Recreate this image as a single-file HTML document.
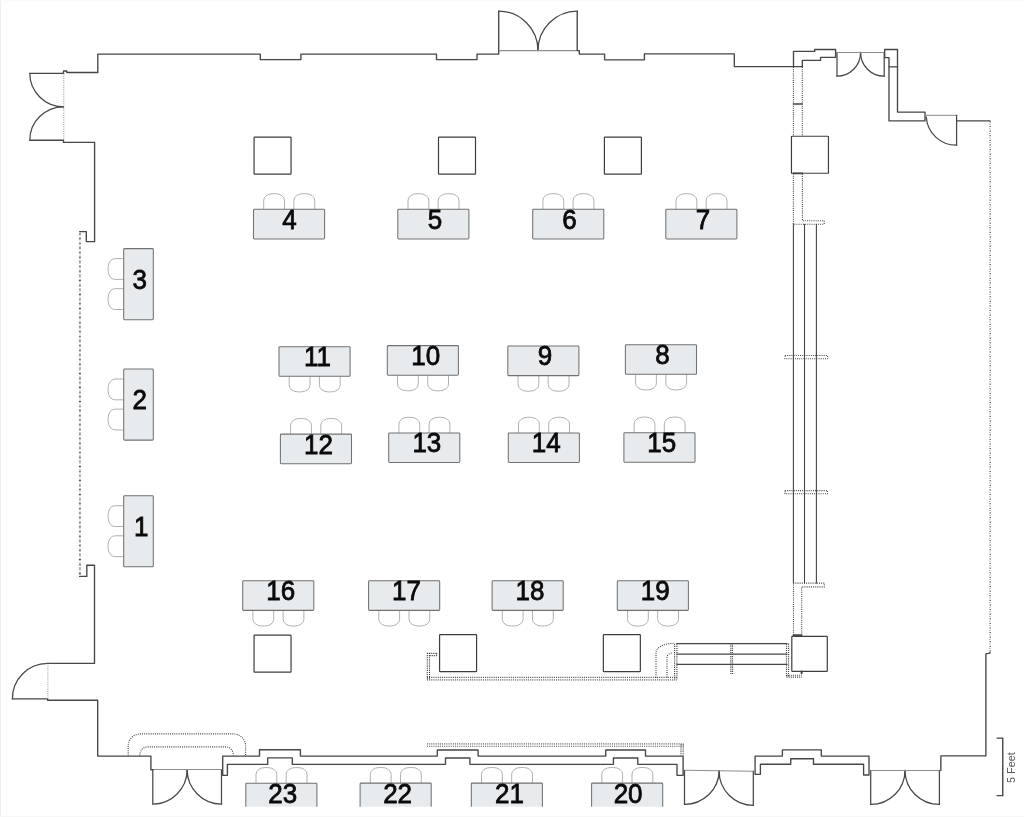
<!DOCTYPE html>
<html lang="en"><head><meta charset="utf-8"><title>Floor plan</title>
<style>
html,body{margin:0;padding:0;background:#fff;}
body{width:1024px;height:817px;overflow:hidden;position:relative;font-family:"Liberation Sans",sans-serif;}
#plan{position:absolute;left:0;top:0;width:1024px;height:817px;display:block;will-change:transform;}
.w{fill:none;stroke:#464646;stroke-width:1.35;stroke-linejoin:round;stroke-linecap:round;}
.th{fill:none;stroke:#8e8e8e;stroke-width:1.05;}
.dr{fill:none;stroke:#474747;stroke-width:1.25;stroke-linejoin:round;stroke-linecap:round;}
.col{fill:#fff;stroke:#3e3e3e;stroke-width:1.2;}
.tb{fill:#e8ebee;stroke:#727272;stroke-width:1.05;}
.ch{fill:#fff;stroke:#b0b0b0;stroke-width:1;}
.d1{fill:none;stroke:#444;stroke-width:1.1;stroke-dasharray:1 1.15;}
.d2{fill:none;stroke:#777;stroke-width:1;stroke-dasharray:0.8 1.5;}
.hb{fill:none;stroke:#444;stroke-width:1.15;stroke-dasharray:1.1 1;}
.n{font-family:"Liberation Sans",sans-serif;font-size:26px;fill:#0a0a0a;stroke:#0a0a0a;stroke-width:0.75;text-anchor:middle;}
.ft{font-family:"Liberation Sans",sans-serif;font-size:10.8px;fill:#555;text-anchor:middle;}
.edge-l{position:absolute;left:0;top:0;width:1px;height:817px;background:#efefef;}
.edge-t{position:absolute;left:0;top:0;width:1024px;height:1px;background:#fafafa;}
.edge-b{position:absolute;left:0;top:816px;width:1024px;height:1px;background:#f7f7f7;}
</style></head><body>
<svg id="plan" width="1024" height="817" viewBox="0 0 1024 817">
<defs><clipPath id="clipb"><rect x="0" y="0" width="1024" height="806.8"/></clipPath></defs>
<g id="walls">
<path class="w" d="M63.5,73.3 L63.5,71 L66.8,71 L66.8,72.5 L97.8,72.5 L97.8,54.1 L260.3,54.1 L260.3,59.6 L300.9,59.6 L300.9,54.1 L436.5,54.1 L436.5,59.6 L477,59.6 L477,54.1 L498.7,54.1 L498.7,11.1"/>
<path class="dr" d="M498.7,11.1 A39.4,39.4 0 0 1 537.95,50.6"/>
<path class="dr" d="M577.2,11.1 A39.4,39.4 0 0 0 537.95,50.6"/>
<path class="th" d="M498.7,50.6 L577.2,50.6"/>
<path class="w" d="M577.2,11.1 L577.2,50.6 L579.3,50.6 L579.3,54.1 L604.6,54.1 L604.6,59.8 L644.4,59.8 L644.4,53.9 L734.3,53.9 L734.3,66.6 L802.3,66.6"/>
<path class="w" d="M793.5,66.6 L793.5,51.3 L814.7,51.3 L814.7,49.5 L835.6,49.5 L835.6,57.4 L820.6,57.4 L820.6,60.3 L802.3,60.3 L802.3,66.6"/>
<path class="dr" d="M837,52.4 L837,76.2"/>
<path class="dr" d="M884.2,52.4 L884.2,76.2"/>
<path class="dr" d="M837,76.2 A23.6,23.8 0 0 0 860.6,52.4"/>
<path class="dr" d="M884.2,76.2 A23.6,23.8 0 0 1 860.6,52.4"/>
<path class="th" d="M837,52.4 L884.2,52.4"/>
<path class="w" d="M884.7,57.6 L884.7,49.5 L897.5,49.5 L897.5,112.1 L925,112.1 L925,120.9 L889,120.9 L889,57.6 Z"/>
<path class="w" d="M889,66.8 L897.5,66.8"/>
<path class="th" d="M925.7,115.3 L956.6,115.3"/>
<path class="dr" d="M956.6,115.3 L956.6,145.2"/>
<path class="dr" d="M926.3,117 A30.2,29.9 0 0 0 956.6,145.2"/>
<path class="w" d="M956.6,120.9 L990,120.9"/>
<path class="w" d="M989.9,652.3 L989.9,653.2 L985.9,653.8 L985.9,755.9 L940.85,755.9 L940.85,770.5"/>
<path class="dr" d="M870.7,770.4 L870.7,804.4"/>
<path class="dr" d="M939.4,770.4 L939.4,804.4"/>
<path class="dr" d="M870.7,804.4 A34.3,34 0 0 0 905,770.4"/>
<path class="dr" d="M939.4,804.4 A34.4,34 0 0 1 905,770.4"/>
<path class="th" d="M870.7,770.4 L939.4,770.4"/>
<path class="w" d="M755.1,756.1 L782.4,756.1 L782.4,749.8 L821.3,749.8 L821.3,756.1 L869,756.1 L869,775 L863.6,775 L863.6,764.2 L813.5,764.2 L813.5,758.7 L790.7,758.7 L790.7,764.2 L760.4,764.2 L760.4,774.3 L755.1,774.3 Z"/>
<path class="dr" d="M684.5,770.4 L684.5,804.4"/>
<path class="dr" d="M753.3,771.2 L753.3,805.4"/>
<path class="dr" d="M684.5,804.4 A34.6,33.8 0 0 0 719.1,770.8"/>
<path class="dr" d="M753.3,805.4 A34.2,34.4 0 0 1 719.1,770.8"/>
<path class="th" d="M684.5,770.3 L753.3,771.2"/>
<path class="w" d="M222.7,756.1 L259.5,756.1 L259.5,749.7 L300.4,749.7 L300.4,756.1 L437.3,756.1 L437.3,750 L478.1,750 L478.1,756.1 L605.7,756.1 L605.7,750 L645.5,750 L645.5,756.1 L683.1,756.1 L683.1,775.3 L677,775.3 L677,764.3 L637.8,764.3 L637.8,758 L613.4,758 L613.4,764.3 L469.9,764.3 L469.9,758 L445.5,758 L445.5,764.3 L292.3,764.3 L292.3,757.8 L267.7,757.8 L267.7,764.3 L227.4,764.3 L227.4,775.3 L222.7,775.3 Z"/>
<path class="dr" d="M152.8,769.6 L152.8,804.1"/>
<path class="dr" d="M221.5,769.6 L221.5,804.1"/>
<path class="dr" d="M152.8,804.1 A34.35,34.5 0 0 0 187.15,769.6"/>
<path class="dr" d="M221.5,804.1 A34.35,34.5 0 0 1 187.15,769.6"/>
<path class="th" d="M152.8,769.5 L221.5,769.5"/>
<path class="w" d="M152.8,769.7 L150.9,769.7 L150.9,756.1 L97.7,756.1 L97.7,700.2 L47.6,700.2 L47.6,698.9 L12.4,698.9"/>
<path class="dr" d="M12.4,698.9 A35.2,35.5 0 0 1 47.6,663.4"/>
<path class="w" d="M47.6,663.4 L94.5,663.4 L94.5,565.2 L86.8,565.2 L86.8,576.4 L79.6,576.4"/>
<path class="w" d="M79.7,231.6 L86.3,231.6 L86.3,241.6 L94.6,241.6 L94.6,142.4 L63.5,142.4 L63.5,140.2 L29.8,140.2"/>
<path class="dr" d="M29.8,140.2 A33.7,33.45 0 0 1 63.5,106.75"/>
<path class="dr" d="M63.5,106.75 A33.7,33.45 0 0 1 29.8,73.3"/>
<path class="w" d="M29.8,73.3 L63.5,73.3"/>
</g>
<g id="dots">
<path class="d2" d="M63.8,73.5 L63.8,140.2"/>
<path class="d2" d="M47.9,663.3 L47.9,699"/>
<path class="d2" d="M79.9,232.4 V576" style="stroke-width:2;stroke:#aaa;stroke-dasharray:0.8 1.525"/>
<path class="d2" d="M79.9,233.6 V576" style="stroke-width:2;stroke:#555;stroke-dasharray:0.9 3.75"/>
<path class="d2" d="M989.9,121.5 L989.9,652" style="stroke:#666"/>
<path class="d2" d="M990.4,121.5 L990.4,652" style="stroke-dasharray:1 3.6;stroke:#555"/>
<path class="d1" d="M793.4,67 L793.4,136"/>
<path class="d1" d="M802.3,67 L802.3,136"/>
<path class="w" d="M793.4,104 L802.3,104"/>
<path class="d1" d="M793.4,173.5 L793.4,224.2 L824.2,224.2 L824.2,220.8 L802.4,220.8 L802.4,173.5"/>
<path class="d1" d="M785,355.5 H827.5 V358.8 H785 Z"/>
<path class="d1" d="M785,490.6 H827.5 V493.8 H785 Z"/>
<path class="d1" d="M793.5,635 L793.5,583.1 L824.3,583.1 L824.3,586.9 L801.7,586.9 L801.7,635"/>
<path class="hb" d="M674.6,643.7 V679.8 M676.9,643.7 V679.8"/>
<path class="hb" d="M786.5,643.6 V677 M788.6,643.6 V677"/>
<path class="hb" d="M427,677.4 H677" style="stroke-width:1.1;stroke:#505050;stroke-dasharray:1.05 1.1"/>
<path class="hb" d="M427,679.8 H677" style="stroke-width:1.7;stroke:#858585;stroke-dasharray:1.05 1.1"/>
<path class="hb" d="M427.3,653 V680 M429.5,653 V680"/>
<path class="hb" d="M427,653.3 H436.9 M429.6,655.6 H436.9 M436.7,653.3 V655.8"/>
<path class="hb" d="M786.5,675.2 H801.8 M786.5,677.1 H801.8"/>
<path class="hb" d="M730.8,643.5 V674.4 M732.5,643.5 V674.4"/>
<path class="d1" d="M656,677.4 V652.7 A17.6,9.4 0 0 1 673.6,643.3"/>
<path class="d1" d="M667,677.4 V657.3 A5.8,4.3 0 0 1 672.8,653"/>
<path class="hb" d="M427,743.9 H683.6" style="stroke-width:1.9;stroke:#8c8c8c;stroke-dasharray:1.05 1.1"/>
<path class="hb" d="M427,746.25 H683.6" style="stroke-width:1.1;stroke:#505050;stroke-dasharray:1.05 1.1"/>
<path class="hb" d="M681,744.3 V755.3 M683.2,744.3 V755.3"/>
<path class="d1" d="M128.2,755.5 V745.9 A12.3,12 0 0 1 140.5,733.9 H233.3 A12.3,12 0 0 1 245.6,745.9 V755.5"/>
<path class="d1" d="M139.8,755.5 A7.5,8.6 0 0 1 147.3,746.9 H225.9 A7.5,8.6 0 0 1 233.4,755.5"/>
</g>
<g id="rails">
<path class="w" d="M793.4,224.2 V583.1 M804.5,224.2 V583.1 M816.4,224.2 V583.1" style="stroke-width:1.1"/>
<path class="w" d="M676.9,643.7 H787 M676.9,654.1 H787 M676.9,664.3 H787" style="stroke-width:1.3"/>
</g>
<g id="columns">
<rect class="col" x="254.05" y="137.15" width="37.00" height="37.00" rx="0.6"/>
<rect class="col" x="438.50" y="137.10" width="37.00" height="37.00" rx="0.6"/>
<rect class="col" x="604.40" y="137.10" width="37.00" height="37.00" rx="0.6"/>
<rect class="col" x="791.45" y="136.25" width="37.00" height="37.00" rx="0.6"/>
<rect class="col" x="254.05" y="635.20" width="37.00" height="37.00" rx="0.6"/>
<rect class="col" x="439.58" y="634.70" width="37.00" height="37.00" rx="0.6"/>
<rect class="col" x="603.35" y="634.70" width="37.00" height="37.00" rx="0.6"/>
<rect class="col" x="791.80" y="636.40" width="35.50" height="34.90" rx="0.6"/>
<path class="w" d="M793.4,635.2 H801.7" style="stroke-width:1.7"/>
<path class="w" d="M793.4,173.4 H802.4" style="stroke-width:1.6"/>
<path class="w" d="M801.6,671.6 V673.2" style="stroke-width:2"/>
</g>
<g id="tables">
<g id="table4">
<path class="ch" d="M263.7,209.3 V200.4 A9.0,6.7 0 0 1 272.7,193.7 H275.5 A9.0,6.7 0 0 1 284.5,200.4 V209.3"/>
<path class="ch" d="M293.9,209.3 V200.4 A9.0,6.7 0 0 1 302.9,193.7 H305.7 A9.0,6.7 0 0 1 314.7,200.4 V209.3"/>
<rect class="tb" x="253.5" y="209.3" width="71.1" height="29.6" rx="0.9"/>
<text class="n" id="t4" transform="translate(289.55 228.75) scale(1 1.05)">4</text>
</g>
<g id="table5">
<path class="ch" d="M408,209.3 V200.4 A9.0,6.7 0 0 1 417,193.7 H419.8 A9.0,6.7 0 0 1 428.8,200.4 V209.3"/>
<path class="ch" d="M438.2,209.3 V200.4 A9.0,6.7 0 0 1 447.2,193.7 H450 A9.0,6.7 0 0 1 459,200.4 V209.3"/>
<rect class="tb" x="397.8" y="209.3" width="71.1" height="29.6" rx="0.9"/>
<text class="n" id="t5" transform="translate(435.05 228.75) scale(1 1.05)">5</text>
</g>
<g id="table6">
<path class="ch" d="M542.9,209.3 V200.4 A9.0,6.7 0 0 1 551.9,193.7 H554.7 A9.0,6.7 0 0 1 563.7,200.4 V209.3"/>
<path class="ch" d="M573.1,209.3 V200.4 A9.0,6.7 0 0 1 582.1,193.7 H584.9 A9.0,6.7 0 0 1 593.9,200.4 V209.3"/>
<rect class="tb" x="532.7" y="209.3" width="71.1" height="29.6" rx="0.9"/>
<text class="n" id="t6" transform="translate(569.50 228.75) scale(1 1.05)">6</text>
</g>
<g id="table7">
<path class="ch" d="M676,209.3 V200.4 A9.0,6.7 0 0 1 685,193.7 H687.8 A9.0,6.7 0 0 1 696.8,200.4 V209.3"/>
<path class="ch" d="M706.2,209.3 V200.4 A9.0,6.7 0 0 1 715.2,193.7 H718 A9.0,6.7 0 0 1 727,200.4 V209.3"/>
<rect class="tb" x="665.8" y="209.3" width="71.1" height="29.6" rx="0.9"/>
<text class="n" id="t7" transform="translate(703.05 228.75) scale(1 1.05)">7</text>
</g>
<g id="table12">
<path class="ch" d="M290.6,434.1 V425.2 A9.0,6.7 0 0 1 299.6,418.5 H302.4 A9.0,6.7 0 0 1 311.4,425.2 V434.1"/>
<path class="ch" d="M320.8,434.1 V425.2 A9.0,6.7 0 0 1 329.8,418.5 H332.6 A9.0,6.7 0 0 1 341.6,425.2 V434.1"/>
<rect class="tb" x="280.4" y="434.1" width="71.1" height="29.6" rx="0.9"/>
<text class="n" id="t12" transform="translate(318.45 453.55) scale(1 1.05)">12</text>
</g>
<g id="table13">
<path class="ch" d="M398.9,432.9 V424 A9.0,6.7 0 0 1 407.9,417.3 H410.7 A9.0,6.7 0 0 1 419.7,424 V432.9"/>
<path class="ch" d="M429.1,432.9 V424 A9.0,6.7 0 0 1 438.1,417.3 H440.9 A9.0,6.7 0 0 1 449.9,424 V432.9"/>
<rect class="tb" x="388.7" y="432.9" width="71.1" height="29.6" rx="0.9"/>
<text class="n" id="t13" transform="translate(426.85 452.35) scale(1 1.05)">13</text>
</g>
<g id="table14">
<path class="ch" d="M518.5,432.9 V424 A9.0,6.7 0 0 1 527.5,417.3 H530.3 A9.0,6.7 0 0 1 539.3,424 V432.9"/>
<path class="ch" d="M548.7,432.9 V424 A9.0,6.7 0 0 1 557.7,417.3 H560.5 A9.0,6.7 0 0 1 569.5,424 V432.9"/>
<rect class="tb" x="508.3" y="432.9" width="71.1" height="29.6" rx="0.9"/>
<text class="n" id="t14" transform="translate(546.15 452.35) scale(1 1.05)">14</text>
</g>
<g id="table15">
<path class="ch" d="M634.1,432.7 V423.8 A9.0,6.7 0 0 1 643.1,417.1 H645.9 A9.0,6.7 0 0 1 654.9,423.8 V432.7"/>
<path class="ch" d="M664.3,432.7 V423.8 A9.0,6.7 0 0 1 673.3,417.1 H676.1 A9.0,6.7 0 0 1 685.1,423.8 V432.7"/>
<rect class="tb" x="623.9" y="432.7" width="71.1" height="29.6" rx="0.9"/>
<text class="n" id="t15" transform="translate(661.80 452.15) scale(1 1.05)">15</text>
</g>
<g id="table11">
<path class="ch" d="M289.2,376.3 V385.2 A9.0,6.7 0 0 0 298.2,391.9 H301 A9.0,6.7 0 0 0 310,385.2 V376.3"/>
<path class="ch" d="M319.4,376.3 V385.2 A9.0,6.7 0 0 0 328.4,391.9 H331.2 A9.0,6.7 0 0 0 340.2,385.2 V376.3"/>
<rect class="tb" x="279" y="346.7" width="71.1" height="29.6" rx="0.9"/>
<text class="n" id="t11" transform="translate(317.40 366.15) scale(1 1.05)">11</text>
</g>
<g id="table10">
<path class="ch" d="M397.5,375.2 V384.1 A9.0,6.7 0 0 0 406.5,390.8 H409.3 A9.0,6.7 0 0 0 418.3,384.1 V375.2"/>
<path class="ch" d="M427.7,375.2 V384.1 A9.0,6.7 0 0 0 436.7,390.8 H439.5 A9.0,6.7 0 0 0 448.5,384.1 V375.2"/>
<rect class="tb" x="387.3" y="345.6" width="71.1" height="29.6" rx="0.9"/>
<text class="n" id="t10" transform="translate(425.75 365.05) scale(1 1.05)">10</text>
</g>
<g id="table9">
<path class="ch" d="M518,375.6 V384.5 A9.0,6.7 0 0 0 527,391.2 H529.8 A9.0,6.7 0 0 0 538.8,384.5 V375.6"/>
<path class="ch" d="M548.2,375.6 V384.5 A9.0,6.7 0 0 0 557.2,391.2 H560 A9.0,6.7 0 0 0 569,384.5 V375.6"/>
<rect class="tb" x="507.8" y="346" width="71.1" height="29.6" rx="0.9"/>
<text class="n" id="t9" transform="translate(544.85 365.45) scale(1 1.05)">9</text>
</g>
<g id="table8">
<path class="ch" d="M635.6,374.3 V383.2 A9.0,6.7 0 0 0 644.6,389.9 H647.4 A9.0,6.7 0 0 0 656.4,383.2 V374.3"/>
<path class="ch" d="M665.8,374.3 V383.2 A9.0,6.7 0 0 0 674.8,389.9 H677.6 A9.0,6.7 0 0 0 686.6,383.2 V374.3"/>
<rect class="tb" x="625.4" y="344.7" width="71.1" height="29.6" rx="0.9"/>
<text class="n" id="t8" transform="translate(662.45 364.15) scale(1 1.05)">8</text>
</g>
<g id="table16">
<path class="ch" d="M252.9,610.4 V619.3 A9.0,6.7 0 0 0 261.9,626 H264.7 A9.0,6.7 0 0 0 273.7,619.3 V610.4"/>
<path class="ch" d="M283.1,610.4 V619.3 A9.0,6.7 0 0 0 292.1,626 H294.9 A9.0,6.7 0 0 0 303.9,619.3 V610.4"/>
<rect class="tb" x="242.7" y="580.8" width="71.1" height="29.6" rx="0.9"/>
<text class="n" id="t16" transform="translate(280.70 600.25) scale(1 1.05)">16</text>
</g>
<g id="table17">
<path class="ch" d="M378.8,610.4 V619.3 A9.0,6.7 0 0 0 387.8,626 H390.6 A9.0,6.7 0 0 0 399.6,619.3 V610.4"/>
<path class="ch" d="M409,610.4 V619.3 A9.0,6.7 0 0 0 418,626 H420.8 A9.0,6.7 0 0 0 429.8,619.3 V610.4"/>
<rect class="tb" x="368.6" y="580.8" width="71.1" height="29.6" rx="0.9"/>
<text class="n" id="t17" transform="translate(406.55 600.25) scale(1 1.05)">17</text>
</g>
<g id="table18">
<path class="ch" d="M502.3,610.4 V619.3 A9.0,6.7 0 0 0 511.3,626 H514.1 A9.0,6.7 0 0 0 523.1,619.3 V610.4"/>
<path class="ch" d="M532.5,610.4 V619.3 A9.0,6.7 0 0 0 541.5,626 H544.3 A9.0,6.7 0 0 0 553.3,619.3 V610.4"/>
<rect class="tb" x="492.1" y="580.8" width="71.1" height="29.6" rx="0.9"/>
<text class="n" id="t18" transform="translate(529.95 600.25) scale(1 1.05)">18</text>
</g>
<g id="table19">
<path class="ch" d="M627.5,610.4 V619.3 A9.0,6.7 0 0 0 636.5,626 H639.3 A9.0,6.7 0 0 0 648.3,619.3 V610.4"/>
<path class="ch" d="M657.7,610.4 V619.3 A9.0,6.7 0 0 0 666.7,626 H669.5 A9.0,6.7 0 0 0 678.5,619.3 V610.4"/>
<rect class="tb" x="617.3" y="580.8" width="71.1" height="29.6" rx="0.9"/>
<text class="n" id="t19" transform="translate(655.30 600.25) scale(1 1.05)">19</text>
</g>
<g clip-path="url(#clipb)">
<g id="table23">
<path class="ch" d="M256,783.2 V774.3 A9.0,6.7 0 0 1 265,767.6 H267.8 A9.0,6.7 0 0 1 276.8,774.3 V783.2"/>
<path class="ch" d="M286.2,783.2 V774.3 A9.0,6.7 0 0 1 295.2,767.6 H298 A9.0,6.7 0 0 1 307,774.3 V783.2"/>
<rect class="tb" x="245.8" y="783.2" width="71.1" height="29.6" rx="0.9"/>
<text class="n" id="t23" transform="translate(282.80 803.25) scale(1 1.05)">23</text>
</g>
<g id="table22">
<path class="ch" d="M370.3,783.1 V774.2 A9.0,6.7 0 0 1 379.3,767.5 H382.1 A9.0,6.7 0 0 1 391.1,774.2 V783.1"/>
<path class="ch" d="M400.5,783.1 V774.2 A9.0,6.7 0 0 1 409.5,767.5 H412.3 A9.0,6.7 0 0 1 421.3,774.2 V783.1"/>
<rect class="tb" x="360.1" y="783.1" width="71.1" height="29.6" rx="0.9"/>
<text class="n" id="t22" transform="translate(397.60 803.15) scale(1 1.05)">22</text>
</g>
<g id="table21">
<path class="ch" d="M481.5,783.1 V774.2 A9.0,6.7 0 0 1 490.5,767.5 H493.3 A9.0,6.7 0 0 1 502.3,774.2 V783.1"/>
<path class="ch" d="M511.7,783.1 V774.2 A9.0,6.7 0 0 1 520.7,767.5 H523.5 A9.0,6.7 0 0 1 532.5,774.2 V783.1"/>
<rect class="tb" x="471.3" y="783.1" width="71.1" height="29.6" rx="0.9"/>
<text class="n" id="t21" transform="translate(509.45 803.15) scale(1 1.05)">21</text>
</g>
<g id="table20">
<path class="ch" d="M601.8,783.1 V774.2 A9.0,6.7 0 0 1 610.8,767.5 H613.6 A9.0,6.7 0 0 1 622.6,774.2 V783.1"/>
<path class="ch" d="M632,783.1 V774.2 A9.0,6.7 0 0 1 641,767.5 H643.8 A9.0,6.7 0 0 1 652.8,774.2 V783.1"/>
<rect class="tb" x="591.6" y="783.1" width="71.1" height="29.6" rx="0.9"/>
<text class="n" id="t20" transform="translate(628.10 803.15) scale(1 1.05)">20</text>
</g>
</g>
<g id="table3">
<path class="ch" d="M123.7,258.6 H114.8 A6.7,9.0 0 0 0 108.1,267.6 V270.4 A6.7,9.0 0 0 0 114.8,279.4 H123.7"/>
<path class="ch" d="M123.7,288.7 H114.8 A6.7,9.0 0 0 0 108.1,297.7 V300.5 A6.7,9.0 0 0 0 114.8,309.5 H123.7"/>
<rect class="tb" x="123.7" y="248.6" width="29.6" height="71.1" rx="0.9"/>
<text class="n" id="t3" transform="translate(139.60 289.05) scale(1 1.05)">3</text>
</g>
<g id="table2">
<path class="ch" d="M123.7,379 H114.8 A6.7,9.0 0 0 0 108.1,388 V390.8 A6.7,9.0 0 0 0 114.8,399.8 H123.7"/>
<path class="ch" d="M123.7,409.1 H114.8 A6.7,9.0 0 0 0 108.1,418.1 V420.9 A6.7,9.0 0 0 0 114.8,429.9 H123.7"/>
<rect class="tb" x="123.7" y="369" width="29.6" height="71.1" rx="0.9"/>
<text class="n" id="t2" transform="translate(139.60 409.45) scale(1 1.05)">2</text>
</g>
<g id="table1">
<path class="ch" d="M123.7,505.7 H114.8 A6.7,9.0 0 0 0 108.1,514.7 V517.5 A6.7,9.0 0 0 0 114.8,526.5 H123.7"/>
<path class="ch" d="M123.7,535.8 H114.8 A6.7,9.0 0 0 0 108.1,544.8 V547.6 A6.7,9.0 0 0 0 114.8,556.6 H123.7"/>
<rect class="tb" x="123.7" y="495.7" width="29.6" height="71.1" rx="0.9"/>
<text class="n" id="t1" transform="translate(141.10 536.15) scale(1 1.05)">1</text>
</g>
</g>
<g id="scale">
<path class="w" d="M996.6,738.1 H1002.75 V795.6 H996.6" style="stroke-linejoin:miter;stroke-linecap:butt;stroke-width:1.4"/>
<text class="ft" id="feet" transform="translate(1014.6,767.6) rotate(-90)">5 Feet</text>
</g>
</svg>
<div class="edge-l"></div><div class="edge-t"></div><div class="edge-b"></div>
</body></html>
